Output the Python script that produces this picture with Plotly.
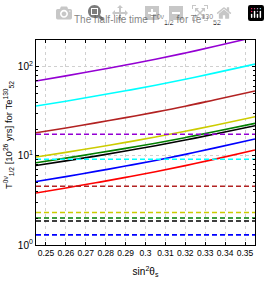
import plotly.graph_objects as go

# sin^2(theta_s) sample points
s2 = [0.245, 0.26, 0.275, 0.29, 0.305, 0.32, 0.335, 0.355]

# solid curves (half-life, 10^26 yrs)
purple = [69.3, 79.1, 90.8, 104.7, 121.6, 143.0, 169.8, 216.0]
cyan = [36.3, 41.1, 47.0, 53.8, 62.1, 72.4, 85.5, 107.4]
brown = [18.2, 20.6, 23.5, 26.9, 31.0, 36.1, 42.7, 53.5]
yellow = [9.73, 10.96, 12.45, 14.19, 16.29, 18.88, 22.13, 27.5]
green = [8.39, 9.44, 10.69, 12.16, 13.90, 16.07, 18.75, 23.2]
black = [7.80, 8.79, 9.95, 11.35, 13.0, 15.07, 17.62, 21.8]
blue = [5.16, 5.86, 6.70, 7.69, 8.89, 10.40, 12.30, 15.49]
red = [3.84, 4.37, 4.99, 5.74, 6.65, 7.78, 9.20, 11.64]

# dashed horizontal levels
dashed_levels = {
    "purple": 17.5,
    "cyan": 9.16,
    "brown": 4.56,
    "yellow": 2.32,
    "green": 2.01,
    "black": 1.86,
    "blue": 1.30,
}

colors = {
    "purple": "#9400D3",
    "cyan": "#00FFFF",
    "brown": "#B22222",
    "yellow": "#CCCC00",
    "green": "#007F00",
    "black": "#000000",
    "blue": "#0000FF",
    "red": "#FF0000",
}

xticks = [0.25, 0.26, 0.27, 0.28, 0.29, 0.30, 0.31, 0.32, 0.33, 0.34, 0.35]
xticklabels = ["0.25", "0.26", "0.27", "0.28", "0.29", "0.3", "0.31", "0.32", "0.33", "0.34", "0.35"]
yticks = [1, 10, 100]
yticklabels = ["10<sup>0</sup>", "10<sup>1</sup>", "10<sup>2</sup>"]

FONT = "Liberation Sans, Arial, sans-serif"

fig = go.Figure()

solids = [("purple", purple), ("cyan", cyan), ("brown", brown), ("yellow", yellow),
          ("green", green), ("black", black), ("blue", blue), ("red", red)]
for name, ys in solids:
    fig.add_trace(go.Scatter(x=s2, y=ys, mode="lines", line=dict(color=colors[name], width=1.6,
                  shape="spline"), showlegend=False, hoverinfo="skip"))

for name, lvl in dashed_levels.items():
    fig.add_trace(go.Scatter(x=[s2[0], s2[-1]], y=[lvl, lvl], mode="lines",
                  line=dict(color=colors[name], width=1.6, dash="5px,3px"),
                  showlegend=False, hoverinfo="skip"))

fig.update_layout(
    width=270, height=302,
    margin=dict(l=36, r=15, t=40, b=57, autoexpand=False),
    paper_bgcolor="white", plot_bgcolor="white",
    font=dict(family=FONT, size=10, color="black"),
    xaxis=dict(range=[0.245, 0.355], tickvals=xticks, ticktext=xticklabels, tickangle=0,
               automargin=False,
               ticks="inside", ticklen=3, tickcolor="black",
               showline=True, linecolor="black", linewidth=1.2, mirror="allticks",
               showgrid=True, gridcolor="#d0d0d0", griddash="dot", gridwidth=1,
               zeroline=False, tickfont=dict(family=FONT, size=8.5),
               title=dict(text="sin<sup>2</sup>θ<sub>s</sub>", standoff=10,
                          font=dict(family=FONT, size=10))),
    yaxis=dict(type="log", range=[0, 2.30103], tickvals=yticks, ticktext=yticklabels,
               automargin=False,
               ticks="inside", ticklen=3, tickcolor="black",
               showline=True, linecolor="black", linewidth=1.2, mirror="allticks",
               showgrid=True, gridcolor="#d0d0d0", griddash="dot", gridwidth=1,
               zeroline=False, tickfont=dict(family=FONT, size=10),
               minor=dict(ticks="inside", ticklen=2, tickcolor="black",
                          tickvals=[2, 3, 4, 5, 6, 7, 8, 9, 20, 30, 40, 50, 60, 70, 80, 90, 200],
                          showgrid=False)),
)

fig.add_annotation(
    text="The half-life time T<sup>0ν</sup><sub>1/2</sub> for Te<sup>130</sup><sub>52</sub>",
    xref="paper", yref="paper", x=(147 - 36) / 219, y=1 + 20 / 205,
    xanchor="center", yanchor="middle", showarrow=False,
    font=dict(family=FONT, size=10, color="black"))

fig.add_annotation(
    text="T<sup>0ν</sup><sub>1/2</sub> [10<sup>26</sup> yrs] for Te<sup>130</sup><sub>52</sub>",
    xref="paper", yref="paper", x=(8 - 36) / 219, y=(245 - 135) / 205,
    xanchor="center", yanchor="middle", textangle=-90, showarrow=False,
    font=dict(family=FONT, size=9.5, color="black"))

fig.write_html("out.html", config={"responsive": False},
               post_script="document.body.style.margin='0';document.body.style.overflow='hidden';")
